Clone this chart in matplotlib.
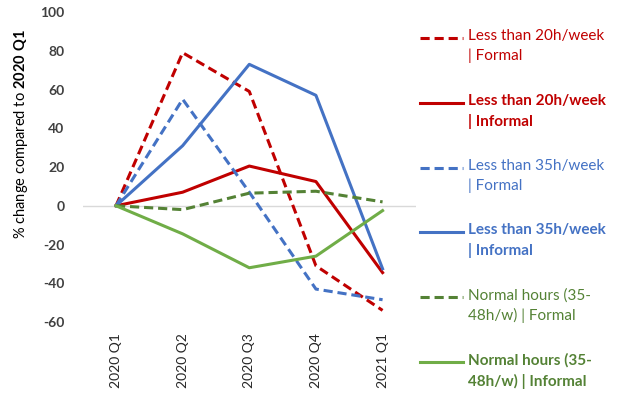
import matplotlib.pyplot as plt
from matplotlib.lines import Line2D

plt.rcParams['font.family'] = ['Lato', 'DejaVu Sans']
plt.rcParams['mathtext.fontset'] = 'custom'
plt.rcParams['mathtext.rm'] = 'Lato'
plt.rcParams['mathtext.bf'] = 'Lato:bold'
plt.rcParams['axes.unicode_minus'] = False

quarters = ['2020 Q1', '2020 Q2', '2020 Q3', '2020 Q4', '2021 Q1']

lt20_formal = [0, 79, 59, -31, -54]
lt20_informal = [0, 7, 20.5, 12.5, -34.5]
lt35_formal = [0, 55, 7, -43, -48.5]
lt35_informal = [0, 31, 73, 57, -32.5]
normal_formal = [0, -2, 6.5, 7.5, 2]
normal_informal = [0, -14.5, -32, -26, -2.5]

RED = '#C00000'
BLUE = '#4472C4'
GREEN_D = '#548235'
GREEN_L = '#70AD47'

series = [
    ('Less than 20h/week\n| Formal', lt20_formal, RED, (0, (3, 1.6)), 'normal', RED),
    ('Less than 20h/week\n| Informal', lt20_informal, RED, '-', 'bold', RED),
    ('Less than 35h/week\n| Formal', lt35_formal, BLUE, (0, (3, 1.6)), 'normal', BLUE),
    ('Less than 35h/week\n| Informal', lt35_informal, BLUE, '-', 'bold', BLUE),
    ('Normal hours (35-\n48h/w) | Formal', normal_formal, GREEN_D, (0, (3, 1.6)), 'normal', GREEN_D),
    ('Normal hours (35-\n48h/w) | Informal', normal_informal, GREEN_L, '-', 'bold', GREEN_D),
]

fig = plt.figure(figsize=(6.24, 3.94), dpi=100)
ax = fig.add_axes([0.1325, 0.1827, 0.534, 0.7868])

x = range(len(quarters))
ax.axhline(0, color='#D9D9D9', lw=1, zorder=1)
for label, vals, col, ls, weight, tcol in series:
    ax.plot(x, vals, color=col, ls=ls, lw=2.2, zorder=3)

ax.set_xlim(-0.5, len(quarters) - 0.5)
ax.set_ylim(-60, 100)
ax.set_yticks(range(-60, 101, 20))
ax.set_xticks(list(x))
ax.set_xticklabels(quarters, rotation=90, fontsize=10, color='#262626')
for t in ax.get_yticklabels():
    t.set_fontweight('bold')
ax.tick_params(axis='y', length=0, pad=13, labelsize=10, labelcolor='#404040')
ax.tick_params(axis='x', length=0, pad=8)
for s in ax.spines.values():
    s.set_visible(False)

fig.text(0.034, 0.66, r'% change compared to $\mathbf{2020\ Q1}$', rotation=90,
         ha='center', va='center', fontsize=10.5, color='#000000')

# legend drawn by hand, handle aligned with first text line
top_px = [38, 103, 168, 232, 297, 362]
W, H = 624, 394
for (label, vals, col, ls, weight, tcol), yp in zip(series, top_px):
    yf = 1 - yp / H
    fig.add_artist(Line2D([420 / W, 463 / W], [yf, yf], color=col, ls=ls, lw=2.2))
    fig.text(468 / W, 1 - (yp - 9) / H, label, ha='left', va='top', fontsize=11,
             color=tcol, fontweight=weight, linespacing=1.5)

fig.savefig('out.png', dpi=100)
